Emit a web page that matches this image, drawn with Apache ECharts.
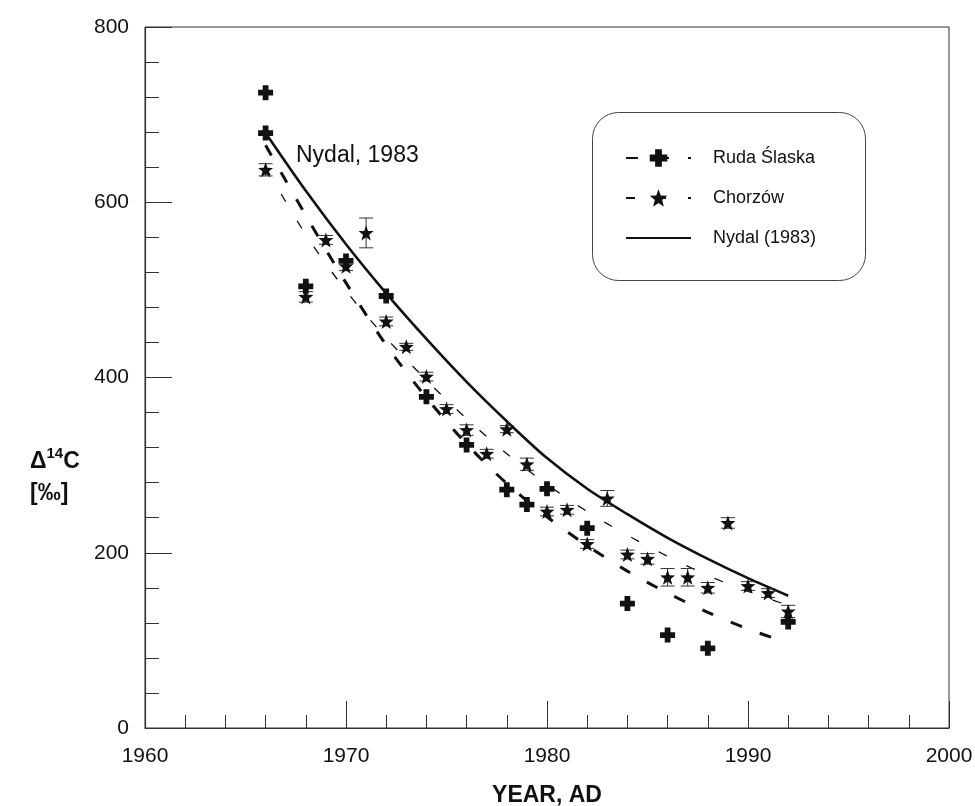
<!DOCTYPE html>
<html>
<head>
<meta charset="utf-8">
<script src="https://cdn.jsdelivr.net/npm/echarts@6/dist/echarts.min.js"></script>
<style>
  html, body { margin: 0; padding: 0; background: #fff; }
  #chart { width: 975px; height: 806px; }
</style>
</head>
<body>
<div id="chart"></div>
<script>
// Chorzów tree rings (stars) with error bars
const chorzowYears  = [1966, 1968, 1969, 1970, 1971, 1972, 1973, 1974, 1975, 1976, 1977, 1978, 1979,
                       1980, 1981, 1982, 1983, 1984, 1985, 1986, 1987, 1988, 1989, 1990, 1991, 1992];
const chorzowValues = [637, 492, 557, 527, 565, 464, 435, 401, 364, 340, 313, 341, 301,
                       247, 249, 210, 262, 198, 193, 172, 172, 160, 234, 162, 154, 133];
const chorzowErrors = [7, 6, 5, 5, 17, 5, 4, 5, 5, 6, 5, 4, 7,
                       5, 5, 5, 9, 5, 6, 10, 10, 6, 6, 5, 5, 7];

// Ruda Śląska (crosses)
const rudaYears  = [1966, 1966, 1968, 1970, 1972, 1974, 1976, 1978, 1979, 1980, 1982, 1984, 1986, 1988, 1992];
const rudaValues = [725, 679, 504, 533, 493, 378, 323, 272, 255, 273, 228, 142, 106, 91, 121];

// fitted curves, read every 2 years
const fitYears      = [1966, 1968, 1970, 1972, 1974, 1976, 1978, 1980, 1982, 1984, 1986, 1988, 1990, 1992];
const nydalCurve    = [679, 613, 552, 496, 444, 395, 350, 308, 273, 244, 217, 193, 171, 151];
const rudaCurve     = [665, 585, 508, 437, 377, 324, 279, 241, 208, 179, 154, 132, 113, 97];
const chorzowCurve  = [640, 563, 499, 445, 397, 353, 313, 278, 247, 220, 196, 174, 156, 140];

const seriesNames = ['Ruda Ślaska', 'Chorzów', 'Nydal (1983)'];

const INK = '#111';
const FONT = '"Liberation Sans", Arial, sans-serif';
const crossPath = 'path://M4,0 H9 V4 H13 V9 H9 V13 H4 V9 H0 V4 H4 Z';
const starPath = 'path://M12,0 L15.1,8.3 L24,8.6 L17,14.1 L19.4,22.8 L12,17.8 L4.6,22.8 L7,14.1 L0,8.6 L8.9,8.3 Z';

function pairs(xs, ys) {
  return xs.map((x, i) => [x, ys[i]]);
}

var myChart = echarts.init(document.getElementById('chart'));

const option = {
  animation: false,
  backgroundColor: '#fff',
  grid: {
    left: 145, right: 26, top: 27, bottom: 78,
    outerBoundsMode: 'none',
    show: true, borderColor: '#333', borderWidth: 1
  },
  xAxis: {
    type: 'value', min: 1960, max: 2000, interval: 10,
    axisLine: { lineStyle: { color: '#333', width: 1.2 } },
    axisTick: { inside: true, length: 27, lineStyle: { color: '#333' } },
    minorTick: { show: true, splitNumber: 5, length: 13, lineStyle: { color: '#333' } },
    splitLine: { show: false },
    axisLabel: { color: INK, fontSize: 21, fontFamily: FONT, margin: 18, formatter: v => String(v) },
    name: 'YEAR, AD', nameLocation: 'middle', nameGap: 56,
    nameTextStyle: { color: INK, fontSize: 23, fontWeight: 'bold', fontFamily: FONT }
  },
  yAxis: {
    type: 'value', min: 0, max: 800, interval: 200,
    axisLine: { show: true, lineStyle: { color: '#333', width: 1.2 } },
    axisTick: { inside: true, length: 27, lineStyle: { color: '#333' } },
    minorTick: { show: true, splitNumber: 5, length: 14, lineStyle: { color: '#333' } },
    splitLine: { show: false },
    axisLabel: { color: INK, fontSize: 21, fontFamily: FONT, margin: 16 }
  },
  legend: {
    data: [
      { name: seriesNames[0] },
      { name: seriesNames[1] },
      { name: seriesNames[2], itemStyle: { opacity: 0 } }
    ],
    orient: 'vertical',
    left: 625, top: 149,
    itemWidth: 65, itemHeight: 22, itemGap: 22,
    padding: 0,
    textStyle: { color: INK, fontSize: 18, fontFamily: FONT, padding: [0, 0, 0, 17] }
  },
  graphic: [
    {
      type: 'rect', left: 592, top: 112, z: -1,
      shape: { width: 273, height: 168, r: 26 },
      style: { fill: '#fff', stroke: '#444', lineWidth: 1 }
    },
    {
      type: 'text', left: 296, top: 144,
      style: { text: 'Nydal, 1983', fill: INK, font: '23px ' + FONT }
    },
    {
      type: 'text', left: 30, top: 446,
      style: {
        text: '{a|Δ}{s|14}{a|C}\n{a|[‰]}',
        rich: {
          a: { fontSize: 23, fontWeight: 'bold', fontFamily: FONT, fill: INK, lineHeight: 32 },
          s: { fontSize: 15, fontWeight: 'bold', fontFamily: FONT, fill: INK, verticalAlign: 'top', lineHeight: 32, padding: [0, 0, 8, 0] }
        }
      }
    }
  ],
  series: [
    {
      name: 'Ruda Ślaska', type: 'line', data: pairs(fitYears, rudaCurve),
      smooth: 0.3, symbol: crossPath, symbolSize: 20, showSymbol: false,
      itemStyle: { color: INK },
      lineStyle: { color: INK, width: 3, type: [12, 19] }, z: 2
    },
    {
      name: 'Chorzów', type: 'line', data: pairs(fitYears, chorzowCurve),
      smooth: 0.3, symbol: starPath, symbolSize: 20, showSymbol: false,
      itemStyle: { color: INK },
      lineStyle: { color: INK, width: 1.3, type: [9, 22] }, z: 2
    },
    {
      name: 'Nydal (1983)', type: 'line', data: pairs(fitYears, nydalCurve),
      smooth: 0.3, symbol: 'none',
      itemStyle: { color: INK },
      lineStyle: { color: INK, width: 2.6 }, z: 2
    },
    {
      name: 'Chorzów', type: 'custom',
      data: chorzowYears.map((y, i) => [y, chorzowValues[i] - chorzowErrors[i], chorzowValues[i] + chorzowErrors[i]]),
      encode: { x: 0, y: [1, 2] },
      renderItem: function (params, api) {
        const lo = api.coord([api.value(0), api.value(1)]);
        const hi = api.coord([api.value(0), api.value(2)]);
        const w = 7;
        const st = { stroke: '#333', lineWidth: 1 };
        return {
          type: 'group',
          children: [
            { type: 'line', shape: { x1: lo[0], y1: lo[1], x2: hi[0], y2: hi[1] }, style: st },
            { type: 'line', shape: { x1: lo[0] - w, y1: lo[1], x2: lo[0] + w, y2: lo[1] }, style: st },
            { type: 'line', shape: { x1: hi[0] - w, y1: hi[1], x2: hi[0] + w, y2: hi[1] }, style: st }
          ]
        };
      },
      z: 3
    },
    {
      name: 'Chorzów', type: 'scatter', data: pairs(chorzowYears, chorzowValues),
      symbol: starPath, symbolSize: 15,
      itemStyle: { color: INK, opacity: 1 }, z: 4
    },
    {
      name: 'Ruda Ślaska', type: 'scatter', data: pairs(rudaYears, rudaValues),
      symbol: crossPath, symbolSize: 15,
      itemStyle: { color: INK, opacity: 1 }, z: 4
    }
  ]
};

myChart.setOption(option);
window.addEventListener('resize', () => myChart.resize());
</script>
</body>
</html>
